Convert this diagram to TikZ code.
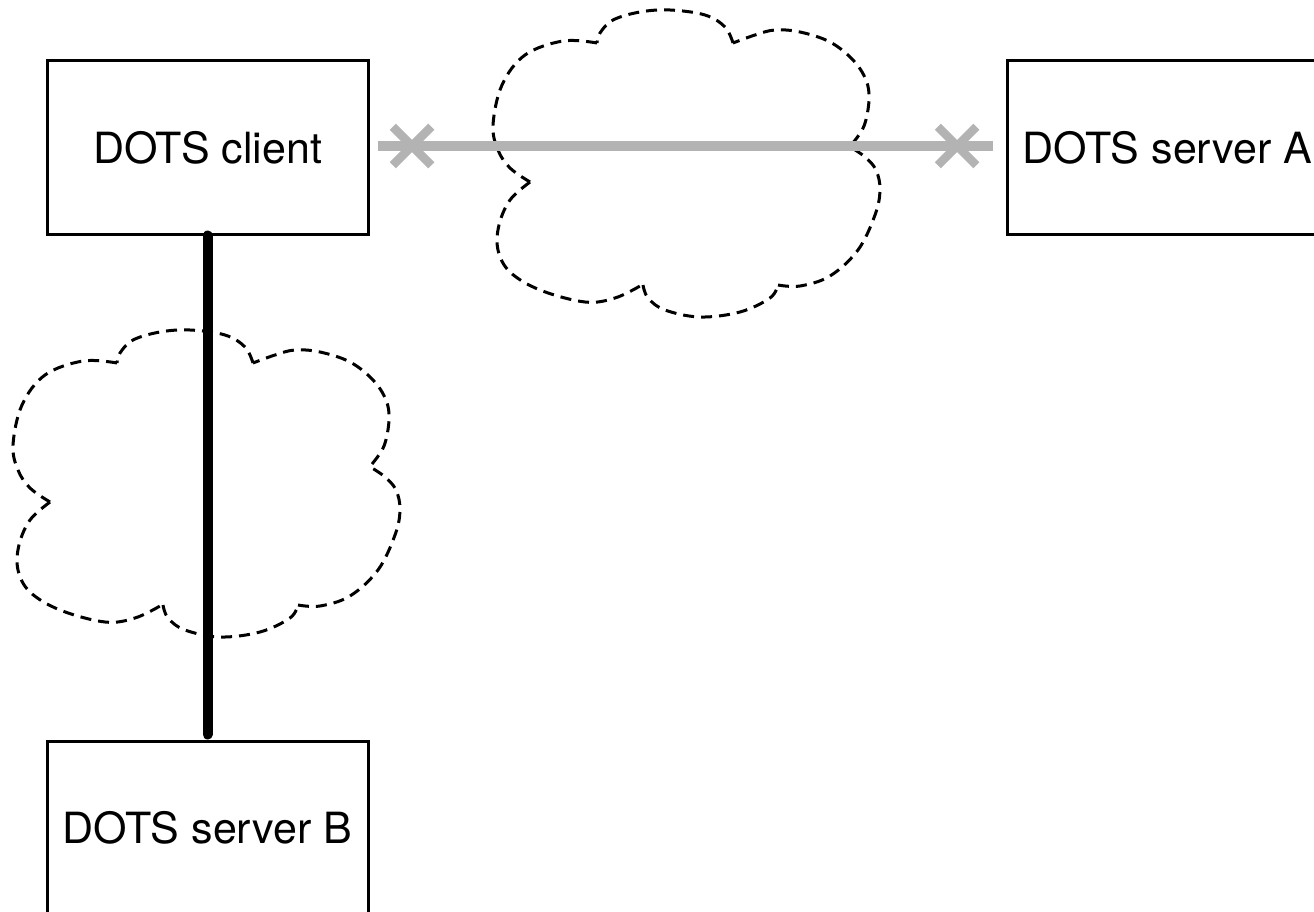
\documentclass[tikz,border=0pt]{standalone}
\usepackage{fontspec}
\setmainfont{TeX Gyre Heros}
\usetikzlibrary{shapes.misc}
\definecolor{linkgray}{RGB}{179,179,179}
\tikzset{
  box/.style={draw, line width=3pt, minimum width=321pt, minimum height=173pt, inner sep=0pt,
    font=\fontsize{43}{50}\selectfont},
  cloudline/.style={line width=3pt, dash pattern=on 11pt off 7pt, line join=round},
  xmark/.style={cross out, draw=linkgray, line width=8.5pt, minimum size=30pt, inner sep=0pt},
  graylink/.style={draw=linkgray, line width=9.5pt},
  blacklink/.style={draw=black, line width=10pt, line cap=round},
  cloudpic/.pic={
    \draw[cloudline]
      plot[smooth, tension=0.6] coordinates {(597,43) (563,41) (525,55) (502,85) (493,125) (498,150) (510,168) (530,182)}
      plot[smooth, tension=0.6] coordinates {(530,182) (510,200) (499,225) (498,250) (510,272) (540,290) (585,302) (615,298) (640,286)}
      plot[smooth, tension=0.6] coordinates {(643,285) (648,298) (665,310) (700,317) (740,312) (770,298) (778,285)}
      plot[smooth, tension=0.6] coordinates {(778,285) (800,286) (830,276) (858,250) (875,215) (880,190) (876,170) (865,157) (852,148)}
      plot[smooth, tension=0.6] coordinates {(852,144) (864,126) (869,100) (866,80) (853,60) (830,42) (800,32) (775,30) (755,35) (733,43)}
      plot[smooth, tension=0.6] coordinates {(733,43) (725,27) (705,15) (670,10) (640,12) (613,20) (600,33) (597,43)};
  }
}
\begin{document}
\begin{tikzpicture}[x=1pt,y=-1pt]
\useasboundingbox (0,0) rectangle (1314,912);
\clip (0,0) rectangle (1314,912);
\fill[white] (0,0) rectangle (1314,912);

% clouds
\pic at (0,0) {cloudpic};
\pic at (-480,320) {cloudpic};

% boxes
\node[box] (client) at (207.5,147.5) {DOTS client};
\node[box] (serverA) at (1167.5,147.5) {DOTS server A};
\node[box] (serverB) at (207.5,827.5) {DOTS server B};

% connectors
\draw[graylink, shorten <=8pt, shorten >=13pt] ([yshift=1.5pt]client.east) -- ([yshift=1.5pt]serverA.west);
\draw[blacklink, shorten >=5pt] (client.south) -- (serverB.north);

% blocked marks
\node[xmark] (xa) at (412,146) {};
\node[xmark] (xb) at (957,146) {};
\end{tikzpicture}
\end{document}
